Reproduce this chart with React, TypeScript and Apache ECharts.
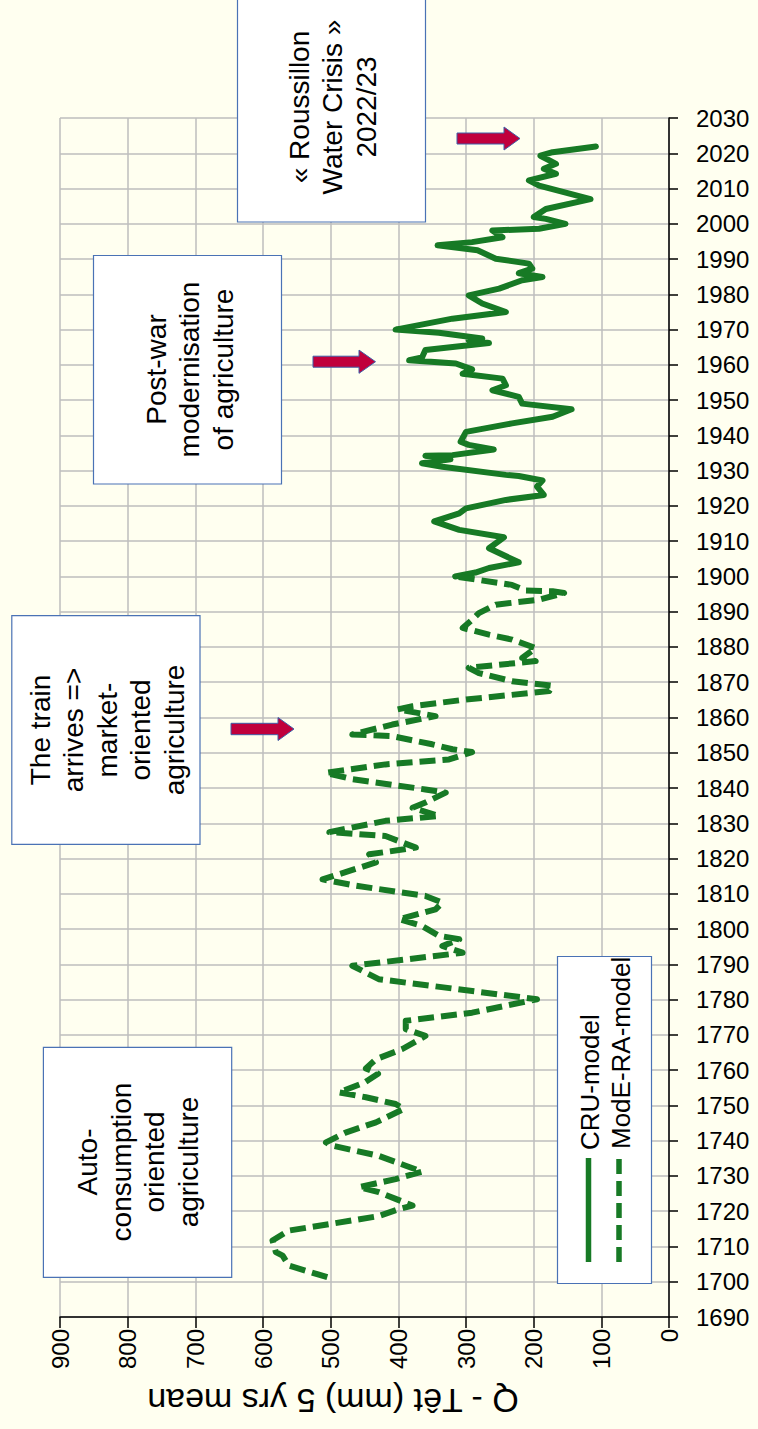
import React, { useEffect, useRef } from "react";
import * as echarts from "echarts";

// ---- Data ----
const CRU_YEARS = [
  1900.0, 1901.1, 1902.4, 1904.0, 1908.0, 1911.1, 1913.2, 1915.6, 1917.9, 1919.3,
  1921.7, 1923.1, 1925.5, 1927.2, 1928.5, 1928.8, 1931.1, 1932.1, 1933.2, 1934.2,
  1934.4, 1936.0, 1937.3, 1938.2, 1941.0, 1943.4, 1945.3, 1947.4, 1949.0, 1950.9,
  1952.8, 1954.2, 1956.1, 1957.5, 1958.7, 1960.4, 1961.3, 1962.1, 1964.2, 1966.2,
  1967.0, 1967.5, 1969.1, 1970.0, 1973.1, 1975.0, 1977.4, 1979.7, 1981.6, 1984.0,
  1984.9, 1986.0, 1987.3, 1988.7, 1990.1, 1992.5, 1993.9, 1994.8, 1996.2, 1998.1,
  1998.6, 2000.0, 2001.4, 2001.9, 2004.2, 2007.0, 2010.8, 2012.3, 2014.2, 2015.6,
  2017.0, 2019.3, 2020.3, 2021.9,
];
const CRU_Q = [
  316, 286, 266, 222, 266, 244, 310, 347, 310, 300,
  241, 185, 195, 187, 222, 241, 335, 365, 323, 360,
  320, 259, 296, 308, 300, 232, 172, 144, 217, 222,
  261, 241, 246, 305, 291, 315, 384, 365, 360, 266,
  296, 276, 340, 404, 320, 241, 276, 296, 251, 217,
  187, 222, 202, 207, 256, 283, 342, 291, 246, 261,
  192, 153, 182, 200, 182, 116, 192, 207, 167, 185,
  167, 190, 172, 108,
];

const MODE_YEARS = [
  1701.3, 1704.6, 1707.4, 1708.4, 1711.7, 1714.5, 1718.6, 1720.6, 1721.6, 1723.5,
  1725.4, 1726.8, 1729.1, 1731.2, 1732.9, 1735.7, 1738.6, 1739.5, 1742.3, 1745.2,
  1749.0, 1750.4, 1752.3, 1753.7, 1756.5, 1759.0, 1760.5, 1763.1, 1766.0, 1769.7,
  1771.6, 1774.0, 1776.3, 1780.1, 1785.8, 1789.6, 1793.3, 1795.2, 1797.1, 1798.1,
  1800.9, 1802.8, 1805.6, 1807.5, 1809.4, 1812.3, 1814.1, 1818.9, 1821.2, 1823.1,
  1826.4, 1827.5, 1830.7, 1832.1, 1834.4, 1835.9, 1838.7, 1839.6, 1842.5, 1844.3,
  1846.7, 1848.1, 1850.2, 1851.0, 1852.4, 1854.7, 1855.2, 1858.0, 1860.4, 1862.3,
  1863.2, 1865.1, 1867.5, 1869.0, 1870.3, 1872.6, 1874.1, 1876.0, 1876.9, 1879.7,
  1882.1, 1883.5, 1885.4, 1887.7, 1889.6, 1892.0, 1893.4, 1895.3, 1895.8, 1896.0,
  1897.6, 1899.0, 1900.0,
];
const MODE_Q = [
  505, 562, 571, 581, 586, 562, 429, 399, 379, 404,
  429, 458, 404, 365, 389, 429, 498, 507, 478, 433,
  392, 404, 448, 488, 450, 430, 448, 433, 394, 360,
  389, 389, 291, 195, 429, 468, 305, 335, 310, 340,
  365, 399, 345, 335, 360, 463, 512, 433, 443, 374,
  419, 502, 419, 340, 379, 360, 330, 360, 468, 507,
  419, 325, 291, 320, 350, 409, 468, 409, 345, 401,
  379, 300, 177, 172, 232, 281, 296, 197, 217, 197,
  232, 266, 305, 291, 281, 256, 192, 155, 172, 212,
  232, 281, 316,
];

const SERIES_NAMES = ["CRU-model", "ModE-RA-model"];
const X_TITLE = "Q - Têt (mm) 5 yrs mean";
const ANNOTATIONS = [
  "« Roussillon\nWater Crisis »\n2022/23",
  "Post-war\nmodernisation\nof agriculture",
  "The train\narrives =>\nmarket-\noriented\nagriculture",
  "Auto-\nconsumption\noriented\nagriculture",
];

// ---- Styles ----
const BG = "#FFFFF0";
const GREEN = "#177A25";
const FONT = "'Liberation Sans', Arial, sans-serif";
const BOX_STROKE = "#4A72B5";
const ARROW_FILL = "#C0003C";
const ARROW_STROKE = "#3F5FA8";

function box(x: number, y: number, w: number, h: number, cx: number, cy: number, text: string) {
  return [
    {
      type: "rect",
      shape: { x, y, width: w, height: h },
      style: { fill: "#FFFFFF", stroke: BOX_STROKE, lineWidth: 1.2 },
      z: 100,
    },
    {
      type: "text",
      x: cx,
      y: cy,
      rotation: Math.PI / 2,
      style: {
        text,
        fontSize: 28,
        fontFamily: FONT,
        fill: "#000",
        align: "center",
        verticalAlign: "middle",
        textAlign: "center",
        textVerticalAlign: "middle",
        lineHeight: 33.5,
      },
      z: 101,
    },
  ];
}

function arrow(x0: number, xb: number, xt: number, cy: number, half: number, headHalf: number) {
  return {
    type: "polygon",
    shape: {
      points: [
        [x0, cy - half],
        [xb, cy - half],
        [xb, cy - headHalf],
        [xt, cy],
        [xb, cy + headHalf],
        [xb, cy + half],
        [x0, cy + half],
      ],
    },
    style: { fill: ARROW_FILL, stroke: ARROW_STROKE, lineWidth: 1 },
    z: 100,
  };
}

export default function App() {
  const ref = useRef<HTMLDivElement>(null);
  useEffect(() => {
    document.body.style.margin = "0";
    document.body.style.background = BG;
    const chart = echarts.init(ref.current!, null, { renderer: "svg" });
    const cruData = CRU_YEARS.map((y, i) => [CRU_Q[i], y]);
    const modeData = MODE_YEARS.map((y, i) => [MODE_Q[i], y]);
    const option: any = {
      animation: false,
      backgroundColor: BG,
      grid: { left: 60, right: 89, top: 118, bottom: 112, containLabel: false },
      xAxis: {
        type: "value",
        min: 0,
        max: 900,
        interval: 100,
        inverse: true,
        position: "bottom",
        axisLine: { show: true, lineStyle: { color: "#000", width: 1.5 } },
        axisTick: { show: true, length: 11, lineStyle: { color: "#000", width: 1.5 } },
        axisLabel: {
          rotate: 90,
          fontSize: 24,
          fontFamily: FONT,
          color: "#000",
          margin: 12,
          formatter: (v: number) => String(v),
        },
        splitLine: { show: true, lineStyle: { color: "#BEBEBE", width: 1.5 } },
      },
      yAxis: {
        type: "value",
        position: "right",
        min: 1690,
        max: 2030,
        interval: 10,
        axisLine: { show: true, lineStyle: { color: "#000", width: 1.5 } },
        axisTick: { show: true, length: 9, lineStyle: { color: "#000", width: 1.5 } },
        axisLabel: {
          fontSize: 24,
          fontFamily: FONT,
          color: "#000",
          margin: 27,
          formatter: (v: number) => String(v),
        },
        splitLine: { show: true, lineStyle: { color: "#BEBEBE", width: 1.5 } },
      },
      series: [
        {
          name: SERIES_NAMES[0],
          type: "line",
          data: cruData,
          showSymbol: false,
          symbol: "none",
          lineStyle: { color: GREEN, width: 6, join: "round", cap: "round" },
          z: 5,
        },
        {
          name: SERIES_NAMES[1],
          type: "line",
          data: modeData,
          showSymbol: false,
          symbol: "none",
          lineStyle: { color: GREEN, width: 6, type: [16, 7], join: "round" },
          z: 5,
        },
      ],
      graphic: [
        {
          type: "text",
          x: 333,
          y: 1401,
          rotation: Math.PI,
          style: {
            text: X_TITLE,
            fontSize: 34,
            fontFamily: FONT,
            fill: "#000",
            align: "center",
            verticalAlign: "middle",
            textAlign: "center",
            textVerticalAlign: "middle",
          },
        },
        ...box(237.5, -8, 188, 230, 332.5, 107, ANNOTATIONS[0]),
        ...box(93.5, 255.5, 188, 228.5, 189.5, 369.5, ANNOTATIONS[1]),
        ...box(11.8, 615.7, 188.2, 228.6, 107, 730, ANNOTATIONS[2]),
        ...box(43.4, 1047.3, 188.3, 230, 138, 1162, ANNOTATIONS[3]),
        arrow(457, 504, 520, 138.5, 5.5, 11.5),
        arrow(313, 359, 375.5, 361.7, 5.5, 11.6),
        arrow(231, 278, 294, 729, 5.7, 11.5),
        // legend
        {
          type: "rect",
          shape: { x: 557.5, y: 956.5, width: 94, height: 327 },
          style: { fill: "#FFFFFF", stroke: BOX_STROKE, lineWidth: 1.2 },
          z: 100,
        },
        {
          type: "line",
          shape: { x1: 588.5, y1: 1262, x2: 588.5, y2: 1158 },
          style: { stroke: GREEN, lineWidth: 5.5 },
          z: 101,
        },
        {
          type: "line",
          shape: { x1: 619, y1: 1262, x2: 619, y2: 1158 },
          style: { stroke: GREEN, lineWidth: 5.5, lineDash: [15, 7] },
          z: 101,
        },
        {
          type: "text",
          x: 590,
          y: 1150,
          rotation: Math.PI / 2,
          style: {
            text: SERIES_NAMES[0],
            fontSize: 26,
            fontFamily: FONT,
            fill: "#000",
            align: "left",
            verticalAlign: "middle",
            textAlign: "left",
            textVerticalAlign: "middle",
          },
          z: 101,
        },
        {
          type: "text",
          x: 621,
          y: 1149,
          rotation: Math.PI / 2,
          style: {
            text: SERIES_NAMES[1],
            fontSize: 26,
            fontFamily: FONT,
            fill: "#000",
            align: "left",
            verticalAlign: "middle",
            textAlign: "left",
            textVerticalAlign: "middle",
          },
          z: 101,
        },
      ],
    };
    chart.setOption(option);
    return () => chart.dispose();
  }, []);
  return <div ref={ref} style={{ width: 758, height: 1429, background: BG }} />;
}
